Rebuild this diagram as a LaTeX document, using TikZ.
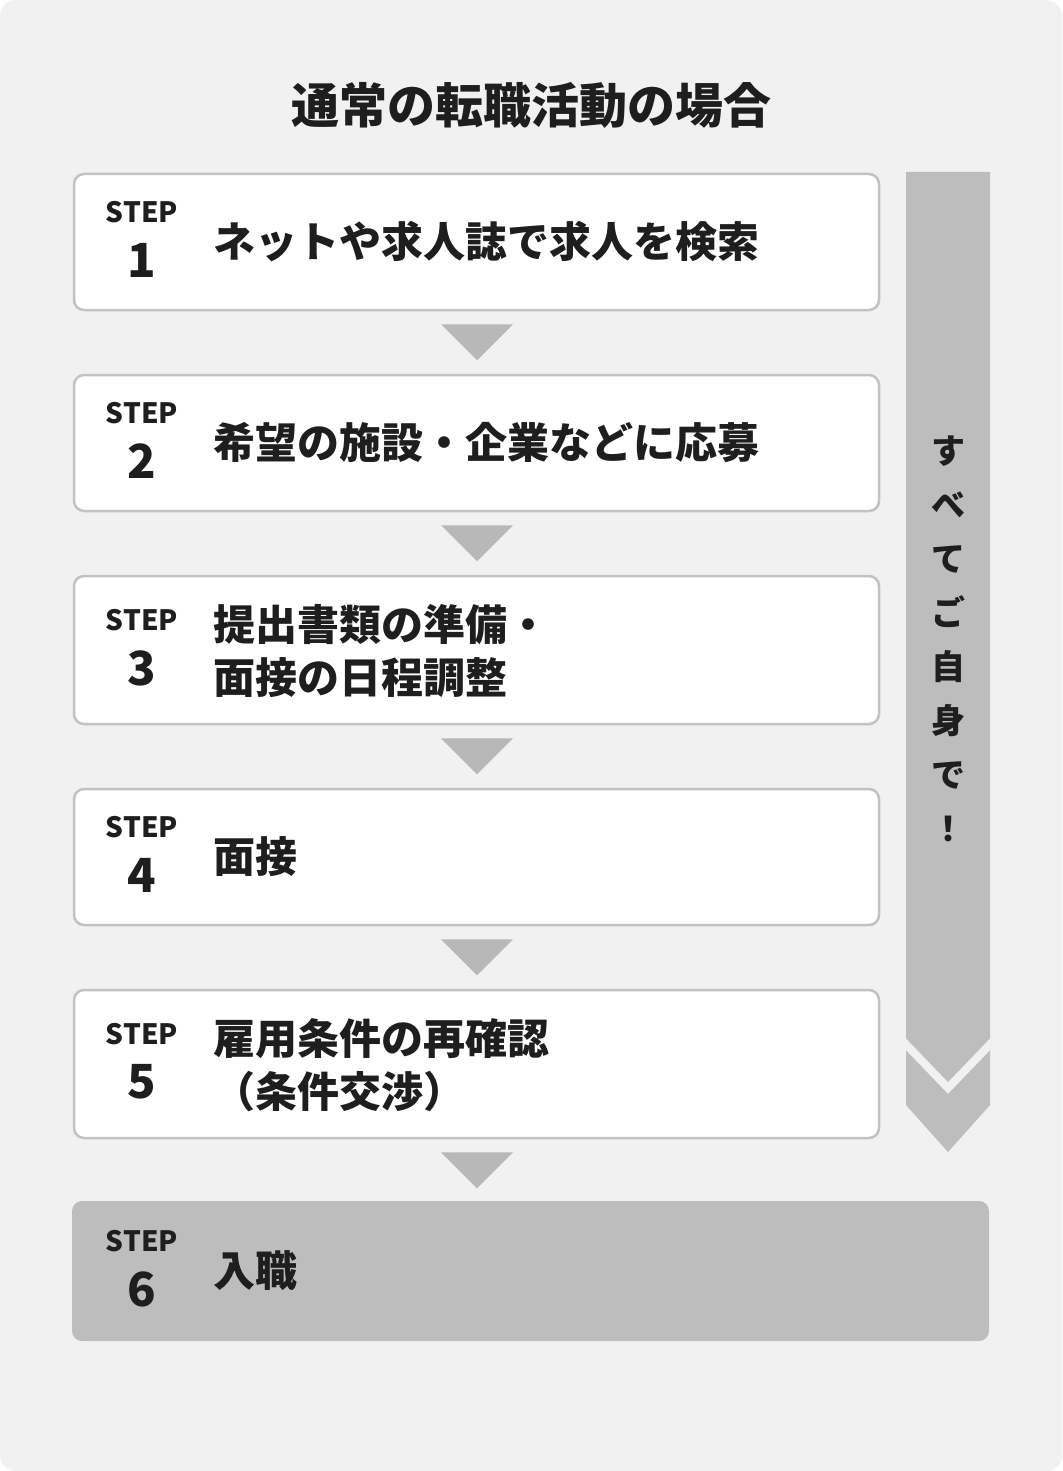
\documentclass[tikz,border=0pt]{standalone}
\usepackage{fontspec}
\setmainfont{Noto Sans CJK JP}
\newfontfamily\medfont{Noto Sans CJK JP Medium}
\usetikzlibrary{calc}
\definecolor{bgc}{HTML}{F1F1F1}
\definecolor{edgec}{HTML}{C2C2C2}
\definecolor{barc}{HTML}{BDBDBD}
\definecolor{tric}{HTML}{B8B8B8}
\definecolor{txtc}{HTML}{1E1E1E}
\begin{document}
\begin{tikzpicture}[x=1pt,y=-1pt,
  stepbox/.style={draw=edgec, line width=2.5pt, fill=white, rounded corners=10pt, minimum width=805pt, inner sep=0pt},
  lastbox/.style={fill=barc, rounded corners=10pt, minimum width=917pt, minimum height=140pt, inner sep=0pt},
  steplbl/.style={text=txtc, font=\fontsize{28}{30}\selectfont\bfseries, inner sep=0pt},
  stepnum/.style={text=txtc, font=\fontsize{47}{50}\selectfont\bfseries, inner sep=0pt},
  steptxt/.style={text=txtc, font=\fontsize{42}{53}\selectfont\bfseries, anchor=west, align=left, inner sep=0pt},
  tri/.style={fill=tric}
]
\fill[white] (0,0) rectangle (1062,1471);
\fill[bgc, rounded corners=16pt] (0,0) rectangle (1062,1471);
\useasboundingbox (0,0) rectangle (1062,1471);

% title
\node[text=txtc, font=\fontsize{48}{52}\selectfont\bfseries, inner sep=0pt] (title) at (531,105) {通常の転職活動の場合};

% right bar
\begin{scope}
\path[clip] (906,172) -- (990,172) -- (990,1105) -- (948,1152) -- (906,1105) -- cycle;
\fill[barc] (900,160) rectangle (1000,1160);
\draw[bgc, line width=8pt] (896,1034) -- (948,1088) -- (1000,1034);
\end{scope}
\node[text=txtc, font=\fontsize{34}{54.1}\selectfont\bfseries, align=center, inner sep=0pt] (vt) at (948,639) {す\\べ\\て\\ご\\自\\身\\で\\！};

% boxes
\node[stepbox, minimum height=136pt] (b1) at (476.5,242) {};
\node[stepbox, minimum height=136pt] (b2) at (476.5,443) {};
\node[stepbox, minimum height=148pt] (b3) at (476.5,650) {};
\node[stepbox, minimum height=136pt] (b4) at (476.5,857) {};
\node[stepbox, minimum height=148pt] (b5) at (476.5,1064) {};
\node[lastbox] (b6) at (530.5,1271) {};

% triangles
\foreach \a/\b in {b1/b2,b2/b3,b3/b4,b4/b5,b5/b6}{
  \fill[tri] ($(\a.south)+(-35.5,13)$) -- ($(\a.south)+(36.5,13)$) -- ($(\a.south)+(0.5,49)$) -- cycle;
}

% labels
\node[steplbl] (s1) at (142,212) {STEP};
\node[stepnum] (n1) at (142,260) {1};
\node[steptxt] (t1) at (213,242) {ネットや求人誌で求人を検索};

\node[steplbl] (s2) at (142,413) {STEP};
\node[stepnum] (n2) at (142,461) {2};
\node[steptxt] (t2) at (213,443) {希望の施設・企業などに応募};

\node[steplbl] (s3) at (142,620) {STEP};
\node[stepnum] (n3) at (142,668) {3};
\node[steptxt] (t3) at (213,651) {提出書類の準備・\\面接の日程調整};

\node[steplbl] (s4) at (142,827) {STEP};
\node[stepnum] (n4) at (142,875) {4};
\node[steptxt] (t4) at (213,857) {面接};

\node[steplbl] (s5) at (142,1034) {STEP};
\node[stepnum] (n5) at (142,1082) {5};
\node[steptxt] (t5) at (213,1065) {雇用条件の再確認\\（条件交渉）};

\node[steplbl] (s6) at (142,1241) {STEP};
\node[stepnum] (n6) at (142,1289) {6};
\node[steptxt] (t6) at (213,1271) {入職};
\end{tikzpicture}
\end{document}
